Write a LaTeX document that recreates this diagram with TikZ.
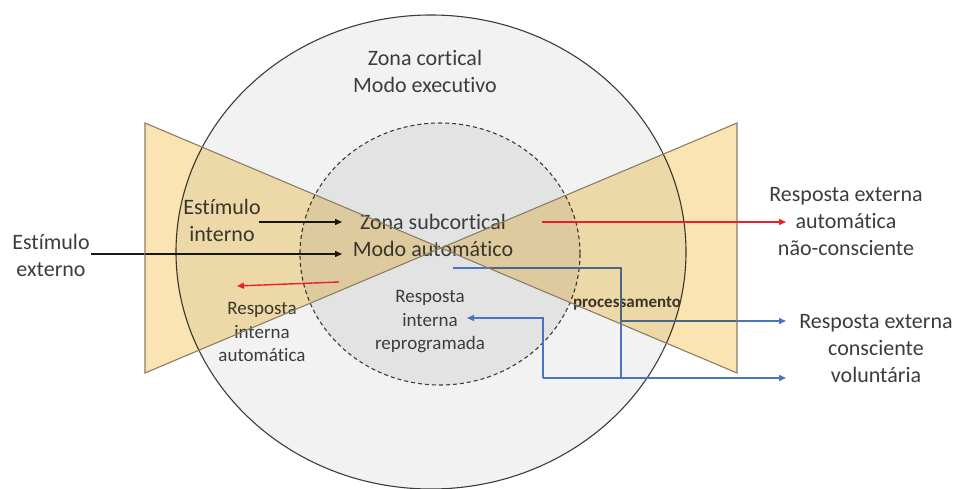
\documentclass[tikz,border=0pt]{standalone}
\usepackage{fontspec}
\setmainfont{Carlito}[Ligatures={NoCommon}]
\usetikzlibrary{arrows.meta}
\definecolor{txt}{HTML}{3C3C3C}
\definecolor{outerfill}{HTML}{F2F2F2}
\definecolor{innerfill}{HTML}{E3E3E4}
\definecolor{tanfill}{HTML}{FAE4B2}
\definecolor{tanedge}{HTML}{8A7E66}
\definecolor{myred}{HTML}{E8202A}
\definecolor{myblue}{HTML}{4A74C0}
\begin{document}
\begin{tikzpicture}[x=1pt,y=-1pt,
  big/.style={font=\fontsize{22}{27}\selectfont, text=txt, align=center, inner sep=0pt},
  small/.style={font=\fontsize{19}{23.5}\selectfont, text=txt, align=center, inner sep=0pt},
  arr/.style={-{Triangle[length=7pt,width=6pt]}},
  blkarr/.style={arr, line width=1.4pt, draw=black!90},
  redarr/.style={arr, line width=1.4pt, draw=myred},
  blueline/.style={line width=1.4pt, draw=myblue},
  bluearr/.style={arr, line width=1.4pt, draw=myblue},
  zone/.style={draw=txt, line width=1.1pt}]
\useasboundingbox (0,0) rectangle (956,489);
% zones
\draw[zone, fill=outerfill] (431,252) ellipse [x radius=255, y radius=237];
\draw[zone, fill=innerfill, dash pattern=on 4pt off 3pt] (440,254) ellipse [x radius=140, y radius=131];
% texts
\node[big] (cort) at (425,71) {Zona cortical\\Modo executivo};
\node[big] (sub) at (433,235) {Zona subcortical\\Modo automático};
\node[big] (eint) at (222,220) {Estímulo\\interno};
\node[big] (eext) at (51,255) {Estímulo\\externo};
\node[small] (rauto) at (262,332) {Resposta\\interna\\automática};
\node[small] (rrep) at (430,322) {Resposta\\interna\\reprogramada};
\node[big] (rext1) at (846,222) {Resposta externa\\automática\\não-consciente};
\node[big] (rext2) at (876,349) {Resposta externa\\consciente\\voluntária};
\node[font=\bfseries\fontsize{17}{20}\selectfont, text=txt, inner sep=0pt] (proc) at (627,303) {processamento};
% coordinates
\coordinate (extA) at (91,254);
\coordinate (extB) at (342,254);
\coordinate (intA) at (259,222);
\coordinate (intB) at (342,222);
\coordinate (bS) at (453,268);
\coordinate (bV) at (621,378);
\coordinate (bJ) at (543,378);
\coordinate (bE) at (786,378);
\coordinate (bR) at (467,318);
\coordinate (bM) at (621,321);
\coordinate (bM2) at (786,321);
\coordinate (rA) at (339,282);
\coordinate (rB) at (237,286);
\coordinate (rC) at (542,222);
\coordinate (rD) at (786,222);
% black arrows
\draw[blkarr] (extA) -- (extB);
\draw[blkarr] (intA) -- (intB);
% blue lines
\draw[blueline] (bS) -| (bV);
\draw[bluearr] (bJ) -- (bE);
\draw[bluearr] (bJ) |- (bR);
\draw[bluearr] (bM) -- (bM2);
% bow-tie
\begin{scope}[blend mode=multiply]
\fill[tanfill] (145,123) -- (737,373) -- (737,123) -- (145,373) -- cycle;
\end{scope}
\draw[tanedge, line width=1.1pt, line join=miter] (145,123) -- (737,373) -- (737,123) -- (145,373) -- cycle;
% red arrows
\draw[redarr] (rA) -- (rB);
\draw[redarr] (rC) -- (rD);
\end{tikzpicture}
\end{document}
